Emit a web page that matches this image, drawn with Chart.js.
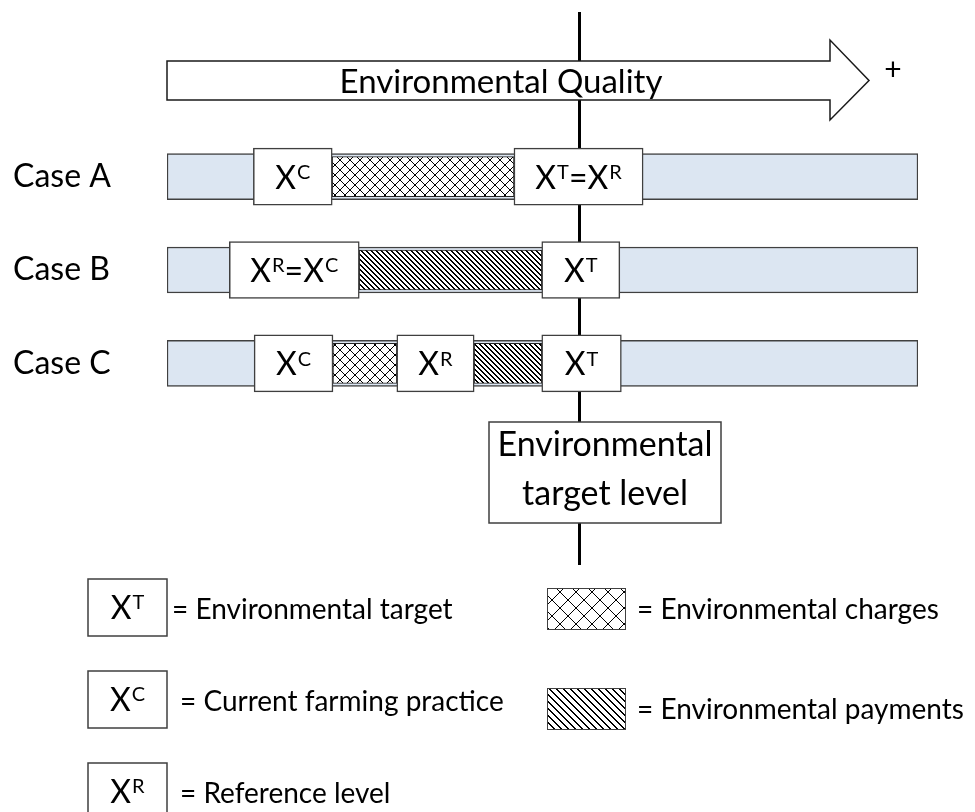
<!DOCTYPE html>
<html>
<head>
<meta charset="utf-8">
<script src="https://cdn.jsdelivr.net/npm/chart.js@4.4.1/dist/chart.umd.min.js"></script>
<style>
  html, body { margin: 0; padding: 0; background: #fff; }
  #wrap { width: 975px; height: 812px; position: relative; }
</style>
</head>
<body>
<div id="wrap"><canvas id="diagram"></canvas></div>
<script>
// rows and the quality scale (0 = worst, 100 = best)
const cases = ['Case A', 'Case B', 'Case C'];
const qualityRange = [0, 100];
const targetLevel = 55;

// white level boxes (X^C, X^R, X^T)
const boxCase = ['Case A', 'Case A', 'Case B', 'Case B', 'Case C', 'Case C', 'Case C'];
const boxFrom = [11.5, 46.2, 8.3, 49.9, 11.6, 30.6, 49.9];
const boxTo = [22.0, 63.4, 25.6, 60.3, 22.1, 40.9, 60.5];
const boxText = ['X^C', 'X^T=X^R', 'X^R=X^C', 'X^T', 'X^C', 'X^R', 'X^T'];

// cross hatched parts = charges
const chargeCase = ['Case A', 'Case C'];
const chargeFrom = [22.0, 22.1];
const chargeTo = [46.2, 30.6];

// diagonal hatched parts = payments
const paymentCase = ['Case B', 'Case C'];
const paymentFrom = [25.6, 40.9];
const paymentTo = [49.9, 49.9];

const legendSymbols = ['X^T', 'X^C', 'X^R'];
const legendSymbolText = ['= Environmental target', '= Current farming practice', '= Reference level'];
const legendFillText = ['= Environmental charges', '= Environmental payments'];

const FONT = 'Lato, "Open Sans", sans-serif';

function makeTile(n, draw) {
    let c = document.createElement('canvas');
    c.width = n;
    c.height = n;
    let g = c.getContext('2d');
    g.fillStyle = '#fff';
    g.fillRect(0, 0, n, n);
    g.fillStyle = '#000';
    draw(g, n);
    return c.getContext('2d').createPattern(c, 'repeat');
}
function crossPattern(n) {
    return makeTile(n, (g, n) => {
        for (let i = 0; i < n; i++) {
            g.fillRect(i, i, 1, 1);
            g.fillRect(n - 1 - i, i, 1, 1);
        }
    });
}
function diagPattern(n, w) {
    return makeTile(n, (g, n) => {
        for (let i = 0; i < n; i++) {
            for (let k = 0; k < w; k++) g.fillRect((i + k) % n, i, 1, 1);
        }
    });
}
const crossFill = crossPattern(10);
const diagFill = diagPattern(5, 2);
const crossFillBig = crossPattern(16);
const diagFillBig = diagPattern(7, 2);

// draws "X^C" style labels, superscript top lined up with the capital
function drawSup(ctx, str, cx, baseline, size) {
    let parts = [];
    for (let i = 0; i < str.length; i++) {
        if (str[i] === '^') {
            parts.push({t: str[i + 1], sup: true});
            i++;
        } else {
            parts.push({t: str[i], sup: false});
        }
    }
    let supSize = Math.round(size * 0.62);
    let big = size + 'px ' + FONT, small = supSize + 'px ' + FONT;
    let w = 0;
    parts.forEach(p => {
        ctx.font = p.sup ? small : big;
        p.w = ctx.measureText(p.t).width + (p.sup ? 1 : 0);
        w += p.w;
    });
    let x = cx - w / 2;
    ctx.textAlign = 'left';
    ctx.textBaseline = 'alphabetic';
    ctx.fillStyle = '#000';
    parts.forEach(p => {
        ctx.font = p.sup ? small : big;
        let y = p.sup ? baseline - size * 0.72 + supSize * 0.72 - 1 : baseline;
        ctx.fillText(p.t, x + (p.sup ? 1 : 0), y);
        x += p.w;
    });
}

const diagramPlugin = {
    id: 'diagram',
    beforeDatasetsDraw(chart) {
        const ctx = chart.ctx;
        const xs = chart.scales.x;
        const lineX = Math.round(xs.getPixelForValue(targetLevel)) - 0.5;
        ctx.save();
        // target line
        ctx.strokeStyle = '#000';
        ctx.lineWidth = 3;
        ctx.beginPath();
        ctx.moveTo(lineX, 12);
        ctx.lineTo(lineX, 565);
        ctx.stroke();
        // quality arrow
        const left = xs.getPixelForValue(qualityRange[0]);
        ctx.beginPath();
        ctx.moveTo(left, 61);
        ctx.lineTo(830, 61);
        ctx.lineTo(830, 40);
        ctx.lineTo(869, 80.5);
        ctx.lineTo(830, 120);
        ctx.lineTo(830, 100);
        ctx.lineTo(left, 100);
        ctx.closePath();
        ctx.fillStyle = '#fff';
        ctx.fill();
        ctx.lineWidth = 1.5;
        ctx.strokeStyle = '#1a1a1a';
        ctx.stroke();
        ctx.fillStyle = '#000';
        ctx.font = '33px ' + FONT;
        ctx.textAlign = 'center';
        ctx.textBaseline = 'alphabetic';
        ctx.fillText('Environmental Quality', 501, 93, 327);
        ctx.font = '30px ' + FONT;
        ctx.textBaseline = 'middle';
        ctx.fillText('+', 893, 70);
        ctx.restore();
    },
    afterDatasetsDraw(chart) {
        const ctx = chart.ctx;
        const xs = chart.scales.x;
        const lineX = Math.round(xs.getPixelForValue(targetLevel));
        ctx.save();
        // labels inside the level boxes
        chart.getDatasetMeta(0).data.forEach((el, i) => {
            drawSup(ctx, boxText[i], (el.x + el.base) / 2, el.y + 12, 32);
        });
        // target level box
        let bx = lineX - 91, bw = 232, by = 422, bh = 101;
        ctx.fillStyle = '#fff';
        ctx.fillRect(bx, by, bw, bh);
        ctx.strokeStyle = '#3f3f3f';
        ctx.lineWidth = 1.5;
        ctx.strokeRect(bx, by, bw, bh);
        ctx.fillStyle = '#000';
        ctx.font = '34px ' + FONT;
        ctx.textAlign = 'center';
        ctx.textBaseline = 'alphabetic';
        ctx.fillText('Environmental', bx + bw / 2, 456, 215);
        ctx.fillText('target level', bx + bw / 2, 505, 215);

        // legend: symbol boxes
        const symTop = [579, 671, 763];
        const symTextX = [172, 180, 180];
        legendSymbols.forEach((s, i) => {
            ctx.fillStyle = '#fff';
            ctx.fillRect(88, symTop[i], 79, 57);
            ctx.strokeStyle = '#3f3f3f';
            ctx.lineWidth = 1.5;
            ctx.strokeRect(88, symTop[i], 79, 57);
            drawSup(ctx, s, 127.5, symTop[i] + 40, 32);
            ctx.fillStyle = '#000';
            ctx.font = '28px ' + FONT;
            ctx.textAlign = 'left';
            ctx.fillText(legendSymbolText[i], symTextX[i], symTop[i] + 40);
        });
        // legend: fill swatches
        const swTop = [588, 688];
        const swFill = [crossFillBig, diagFillBig];
        legendFillText.forEach((t, i) => {
            ctx.fillStyle = swFill[i];
            ctx.fillRect(547, swTop[i], 78, 41);
            ctx.strokeStyle = '#404040';
            ctx.lineWidth = 1;
            ctx.strokeRect(547.5, swTop[i] + 0.5, 78, 41);
            ctx.fillStyle = '#000';
            ctx.font = '28px ' + FONT;
            ctx.textAlign = 'left';
            ctx.fillText(t, 637, swTop[i] + 31);
        });
        ctx.restore();
    }
};

const data = {
    datasets: [{
            label: 'Levels',
            data: boxCase.map((c, i) => ({y: c, x: [boxFrom[i], boxTo[i]]})),
            backgroundColor: '#fff',
            borderColor: '#3f3f3f',
            borderWidth: 1.5,
            barThickness: 57,
            order: 0
        }, {
            label: 'Environmental charges',
            data: chargeCase.map((c, i) => ({y: c, x: [chargeFrom[i], chargeTo[i]]})),
            backgroundColor: crossFill,
            borderColor: '#222',
            borderWidth: 1,
            barThickness: 40,
            order: 1
        }, {
            label: 'Environmental payments',
            data: paymentCase.map((c, i) => ({y: c, x: [paymentFrom[i], paymentTo[i]]})),
            backgroundColor: diagFill,
            borderColor: '#222',
            borderWidth: 1,
            barThickness: 40,
            order: 1
        }, {
            label: 'Environmental quality',
            data: cases.map(c => ({y: c, x: qualityRange})),
            backgroundColor: '#dce6f2',
            borderColor: '#404040',
            borderWidth: 1.5,
            barThickness: 46,
            order: 3
        }]
};

const config = {
    type: 'bar',
    data: data,
    options: {
        indexAxis: 'y',
        responsive: true,
        maintainAspectRatio: false,
        animation: false,
        layout: {
            padding: {left: 13, right: 57, top: 130, bottom: 402}
        },
        datasets: {
            bar: {grouped: false, borderSkipped: false}
        },
        scales: {
            x: {
                type: 'linear',
                min: qualityRange[0],
                max: qualityRange[1],
                display: false
            },
            y: {
                type: 'category',
                labels: cases,
                offset: true,
                grid: {display: false},
                border: {display: false},
                afterFit: function (scale) {
                    scale.width = 154;
                },
                ticks: {
                    crossAlign: 'far',
                    color: '#000',
                    padding: 0,
                    font: {family: FONT, size: 32}
                }
            }
        },
        plugins: {
            legend: {display: false},
            tooltip: {enabled: false}
        }
    },
    plugins: [diagramPlugin]
};

const myChart = new Chart(document.getElementById('diagram'), config);
</script>
</body>
</html>
